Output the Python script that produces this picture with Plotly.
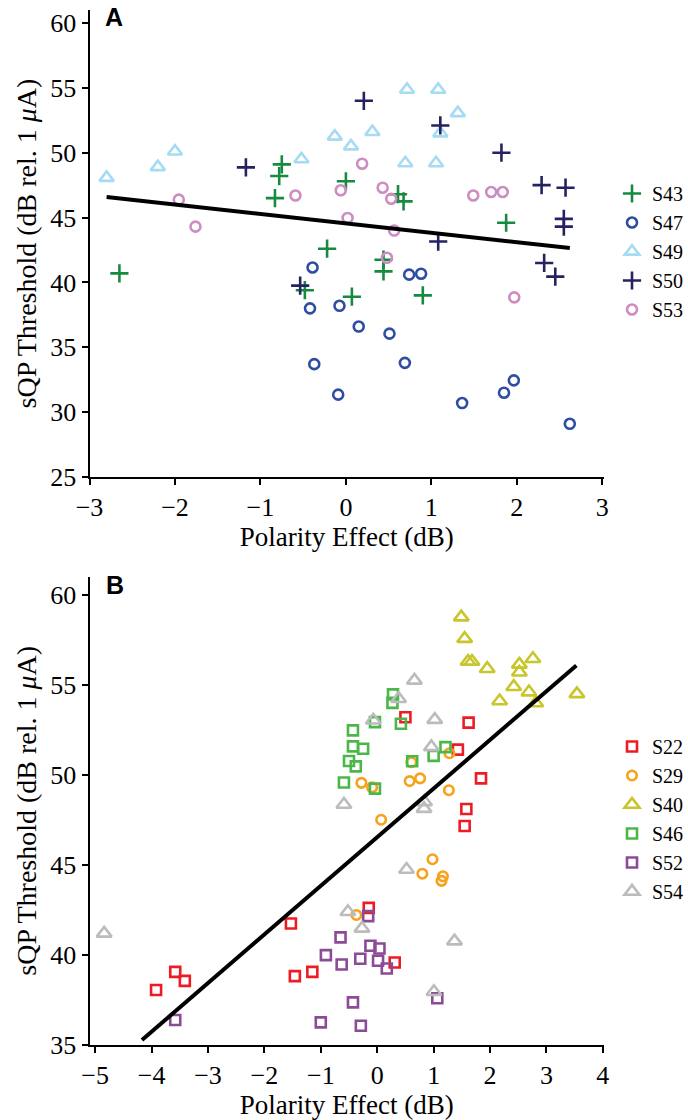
import plotly.graph_objects as go

# ---------------- Panel A data ----------------
s43_x = [-2.65, -0.75, -0.78, -0.83, 0.0, -0.22, -0.48, 0.07, 0.61, 0.675, 1.875, 0.44, 0.44, 0.90]
s43_y = [40.7, 49.1, 48.2, 46.5, 47.8, 42.6, 39.4, 38.9, 46.8, 46.25, 44.6, 41.75, 40.85, 39.0]

s47_x = [-0.39, -0.42, -0.075, 0.15, -0.37, -0.09, 0.51, 0.69, 0.74, 0.88, 1.36, 1.85, 1.965, 2.62]
s47_y = [41.15, 38.0, 38.2, 36.6, 33.7, 31.35, 36.05, 33.8, 40.6, 40.67, 30.7, 31.5, 32.45, 29.1]

s49_x = [-2.80, -2.20, -2.0, -0.52, -0.13, 0.06, 0.715, 1.08, 1.31, 0.31, 1.105, 0.695, 1.055]
s49_y = [48.07, 48.9, 50.1, 49.5, 51.25, 50.5, 54.86, 54.86, 53.06, 51.6, 51.5, 49.2, 49.2]

s50_x = [-1.17, -0.535, 0.21, 1.105, 1.82, 2.29, 2.57, 2.55, 2.55, 1.08, 2.32, 2.45]
s50_y = [48.87, 39.75, 54.0, 52.1, 50.0, 47.5, 47.3, 44.9, 44.3, 43.15, 41.5, 40.45]

s53_x = [-1.955, -1.76, -0.59, -0.06, 0.02, 0.19, 0.43, 0.53, 0.565, 0.48, 1.49, 1.70, 1.835, 1.97]
s53_y = [46.38, 44.3, 46.7, 47.1, 44.97, 49.15, 47.3, 46.45, 44.0, 41.9, 46.7, 46.97, 46.97, 38.85]

fitA_x = [-2.8, 2.62]
fitA_y = [46.58, 42.65]

# ---------------- Panel B data ----------------
s22_x = [-3.92, -3.58, -3.41, -1.53, -1.46, -1.15, 0.50, 1.62, 1.43, 1.84, 1.58, 1.55, -0.15, 0.31]
s22_y = [38.03, 39.04, 38.54, 41.73, 38.8, 39.04, 53.2, 52.9, 51.4, 49.8, 48.1, 47.15, 42.6, 39.56]

s29_x = [-0.28, -0.09, 0.07, 0.575, 0.76, 0.605, 1.28, 1.27, 0.98, 0.80, 1.165, 1.14, -0.37]
s29_y = [49.55, 49.3, 47.5, 49.65, 49.8, 50.7, 51.2, 49.14, 45.3, 44.5, 44.36, 44.1, 42.2]

s40_x = [1.49, 1.55, 1.61, 1.68, 1.95, 2.52, 2.76, 2.52, 2.42, 2.69, 2.17, 2.81, 3.54]
s40_y = [58.77, 57.57, 56.3, 56.3, 55.9, 56.14, 56.45, 55.7, 54.9, 54.6, 54.1, 53.99, 54.5]

s46_x = [0.28, 0.27, -0.04, 0.42, -0.43, -0.43, -0.25, -0.5, -0.38, -0.59, -0.04, 0.62, 1.0, 1.21]
s46_y = [54.47, 54.0, 52.93, 52.84, 52.47, 51.58, 51.45, 50.77, 50.47, 49.57, 49.23, 50.75, 51.05, 51.54]

s52_x = [-3.58, -0.16, -0.65, -0.91, -0.63, -0.30, -0.12, 0.04, 0.015, 0.17, -0.43, -1.0, -0.29, 1.065]
s52_y = [36.36, 42.14, 40.96, 39.97, 39.45, 39.77, 40.49, 40.34, 39.66, 39.23, 37.34, 36.23, 36.04, 37.57]

s54_x = [-4.84, -0.59, -0.52, 0.66, 0.38, -0.07, 1.02, 0.96, 0.84, 0.83, 0.52, -0.27, 1.37, 1.005]
s54_y = [41.18, 48.35, 42.38, 55.25, 54.23, 53.03, 53.07, 51.55, 48.49, 48.12, 44.73, 41.46, 40.75, 37.93]

fitB_x = [-4.17, 3.53]
fitB_y = [35.25, 56.08]

ticksA_x = [-3, -2, -1, 0, 1, 2, 3]
ticksA_y = [25, 30, 35, 40, 45, 50, 55, 60]
ticksB_x = [-5, -4, -3, -2, -1, 0, 1, 2, 3, 4]
ticksB_y = [35, 40, 45, 50, 55, 60]

SERIF = "Liberation Serif"
fig = go.Figure()


def add_series(name, xs, ys, symbol, color, size, xa, ya, legend):
    fig.add_trace(go.Scatter(
        x=xs, y=ys, mode="markers", name=name,
        xaxis=xa, yaxis=ya, legend=legend,
        marker=dict(symbol=symbol, size=size, color=color,
                    line=dict(color=color, width=2.6)),
    ))


# Panel A
add_series("S43", s43_x, s43_y, "cross-thin", "#168b3f", 13, "x", "y", "legend")
add_series("S47", s47_x, s47_y, "circle-open", "#2f4ea3", 10, "x", "y", "legend")
add_series("S49", s49_x, s49_y, "triangle-up-open", "#a6dbf4", 12.5, "x", "y", "legend")
add_series("S50", s50_x, s50_y, "cross-thin", "#262262", 13, "x", "y", "legend")
add_series("S53", s53_x, s53_y, "circle-open", "#cd8dc3", 10, "x", "y", "legend")
fig.add_trace(go.Scatter(x=fitA_x, y=fitA_y, mode="lines", showlegend=False,
                         line=dict(color="black", width=4), xaxis="x", yaxis="y"))

# Panel B
add_series("S22", s22_x, s22_y, "square-open", "#ed1c24", 10, "x2", "y2", "legend2")
add_series("S29", s29_x, s29_y, "circle-open", "#f7a21b", 9.5, "x2", "y2", "legend2")
add_series("S40", s40_x, s40_y, "triangle-up-open", "#c8c62a", 13, "x2", "y2", "legend2")
add_series("S46", s46_x, s46_y, "square-open", "#4cb749", 10, "x2", "y2", "legend2")
add_series("S52", s52_x, s52_y, "square-open", "#8b4b97", 10, "x2", "y2", "legend2")
add_series("S54", s54_x, s54_y, "triangle-up-open", "#bcbcbc", 13, "x2", "y2", "legend2")
fig.add_trace(go.Scatter(x=fitB_x, y=fitB_y, mode="lines", showlegend=False,
                         line=dict(color="black", width=4), xaxis="x2", yaxis="y2"))

W, H = 688, 1120
xdom = [89.5 / W, 604 / W]
yA = [1 - 477 / H, 1 - 10 / H]
yB = [1 - 1044.5 / H, 1 - 577 / H]

axis_common = dict(showline=True, linecolor="black", linewidth=2, ticks="outside",
                   ticklen=6, tickwidth=2, tickcolor="black", showgrid=False,
                   zeroline=False, mirror=False, automargin=False,
                   tickfont=dict(family=SERIF, size=26, color="black"))
ytitle = "sQP Threshold (dB rel. 1 <i>μ</i>A)"
xtitle = "Polarity Effect (dB)"
xtfont = dict(family=SERIF, size=27, color="black")
ytfont = dict(family=SERIF, size=28, color="black")
lfont = dict(family=SERIF, size=20, color="black")

fig.update_layout(
    width=W, height=H,
    margin=dict(l=0, r=0, t=0, b=0, autoexpand=False),
    paper_bgcolor="white", plot_bgcolor="white",
    font=dict(family=SERIF, color="black"),
    xaxis=dict(domain=xdom, anchor="y", range=[-3, 3.02], tickvals=ticksA_x,
               title=dict(text=xtitle, font=xtfont, standoff=0), **axis_common),
    yaxis=dict(domain=yA, anchor="x", range=[25, 61], tickvals=ticksA_y,
               title=dict(text=ytitle, font=ytfont, standoff=5), **axis_common),
    xaxis2=dict(domain=xdom, anchor="y2", range=[-5.1, 4.02], tickvals=ticksB_x,
                title=dict(text=xtitle, font=xtfont, standoff=0), **axis_common),
    yaxis2=dict(domain=yB, anchor="x2", range=[35, 61], tickvals=ticksB_y,
                title=dict(text=ytitle, font=ytfont, standoff=5), **axis_common),
    legend=dict(x=612 / W, xanchor="left", y=1 - 174 / H, yanchor="top",
                font=lfont, bgcolor="rgba(0,0,0,0)", borderwidth=0, tracegroupgap=0),
    legend2=dict(x=612 / W, xanchor="left", y=1 - 727 / H, yanchor="top",
                 font=lfont, bgcolor="rgba(0,0,0,0)", borderwidth=0, tracegroupgap=0),
    annotations=[
        dict(text="<b>A</b>", xref="paper", yref="paper", x=103 / W, y=1 - 1 / H,
             xanchor="left", yanchor="top", showarrow=False,
             font=dict(family="Liberation Sans", size=25, color="black")),
        dict(text="<b>B</b>", xref="paper", yref="paper", x=104 / W, y=1 - 569 / H,
             xanchor="left", yanchor="top", showarrow=False,
             font=dict(family="Liberation Sans", size=25, color="black")),
    ],
)

fig.write_html("out.html")
